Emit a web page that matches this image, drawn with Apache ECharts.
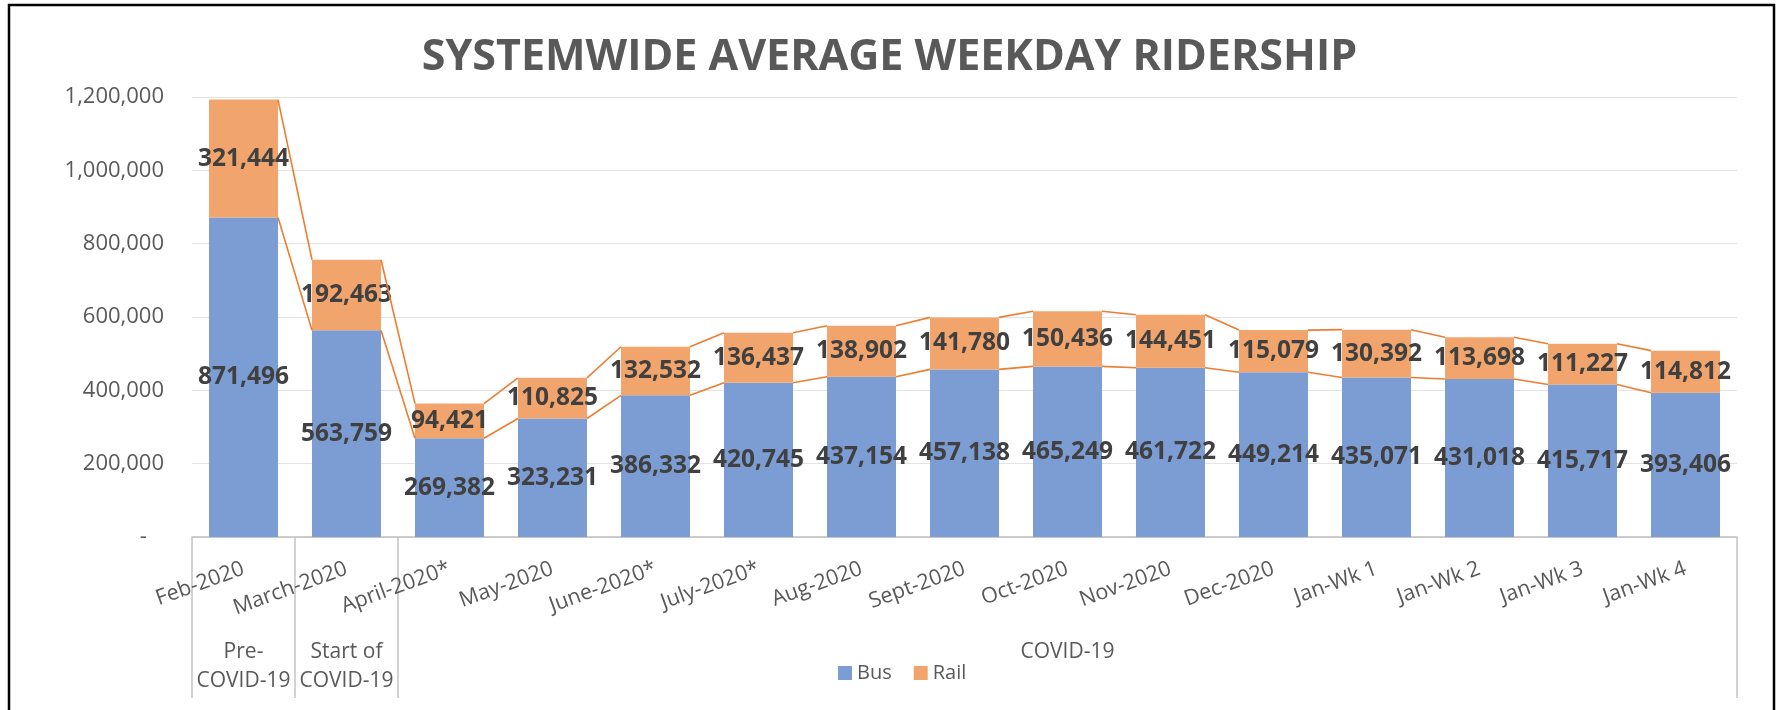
<!DOCTYPE html>
<html>
<head>
<meta charset="utf-8">
<title>Systemwide Average Weekday Ridership</title>
<script src="https://cdn.jsdelivr.net/npm/echarts@6/dist/echarts.min.js"></script>
<style>
  html, body { margin: 0; padding: 0; background: #fff; }
  #chart { width: 1779px; height: 710px; }
</style>
</head>
<body>
<div id="chart"></div>
<script>
// --- data ---
const categories = ['Feb-2020', 'March-2020', 'April-2020*', 'May-2020', 'June-2020*', 'July-2020*',
  'Aug-2020', 'Sept-2020', 'Oct-2020', 'Nov-2020', 'Dec-2020', 'Jan-Wk 1', 'Jan-Wk 2', 'Jan-Wk 3', 'Jan-Wk 4']
const busRiders = [871496, 563759, 269382, 323231, 386332, 420745, 437154, 457138, 465249,
  461722, 449214, 435071, 431018, 415717, 393406]
const railRiders = [321444, 192463, 94421, 110825, 132532, 136437, 138902, 141780, 150436,
  144451, 115079, 130392, 113698, 111227, 114812]
// second level of the category axis (one entry per category, label sits in the middle of its group)
const groupLabels = ['Pre-\nCOVID-19', 'Start of\nCOVID-19', '', '', '', '', '', '', 'COVID-19', '', '', '', '', '', '']
const groupStarts = [0, 1, 2]
const yTicks = { min: 0, max: 1200000, interval: 200000 }

const BAR_GAP = 0.33
const textColor = '#595959'
const fmt = v => v.toLocaleString('en-US')

// series lines join the top edges of neighbouring stacked segments
const seriesLineData = categories.slice(0, -1).map((_, i) => [
  i,
  busRiders[i], busRiders[i + 1],
  busRiders[i] + railRiders[i], busRiders[i + 1] + railRiders[i + 1],
])

const renderSeriesLines = (params, api) => {
  const i = api.value(0)
  const half = api.size([1, 0])[0] * (1 - BAR_GAP) / 2
  const style = { stroke: '#ED7D31', lineWidth: 1.6 }
  const seg = (a, b) => {
    const p1 = api.coord([i, a])
    const p2 = api.coord([i + 1, b])
    return { type: 'line', shape: { x1: p1[0] + half, y1: p1[1], x2: p2[0] - half, y2: p2[1] }, style }
  }
  return { type: 'group', children: [seg(api.value(1), api.value(2)), seg(api.value(3), api.value(4))] }
}

const dataLabel = {
  show: true,
  position: 'inside',
  fontSize: 24.5,
  fontWeight: 'bold',
  color: '#404040',
  formatter: p => fmt(p.value),
}

const chart = echarts.init(document.getElementById('chart'))
chart.setOption({
  backgroundColor: '#fff',
  animation: false,
  textStyle: { fontFamily: 'Open Sans' },
  title: {
    text: 'SYSTEMWIDE AVERAGE WEEKDAY RIDERSHIP',
    left: 'center',
    top: 31,
    textStyle: { fontSize: 43, fontWeight: 'bold', color: textColor, fontFamily: 'Open Sans' },
  },
  legend: {
    data: ['Bus', 'Rail'],
    left: 833,
    top: 658,
    icon: 'rect',
    itemWidth: 14,
    itemHeight: 14,
    itemGap: 22,
    textStyle: { fontSize: 20, color: textColor },
  },
  graphic: [{
    type: 'rect',
    shape: { x: 9, y: 5, width: 1765, height: 740 },
    style: { fill: 'none', stroke: '#000', lineWidth: 2.5 },
    silent: true,
  }],
  grid: { left: 192, right: 42, top: 97, bottom: 173 },
  xAxis: [
    {
      type: 'category',
      data: categories,
      axisLine: { lineStyle: { color: '#bfbfbf', width: 1.5 } },
      axisTick: { show: false },
      axisLabel: { interval: 0, rotate: 20, margin: 31, fontSize: 21.5, color: textColor },
    },
    {
      type: 'category',
      data: groupLabels,
      position: 'bottom',
      axisLine: { show: false },
      axisTick: {
        show: true,
        length: 161,
        interval: i => groupStarts.includes(i),
        lineStyle: { color: '#c4c4c4', width: 1.5 },
      },
      axisLabel: { interval: 0, margin: 101, fontSize: 21, lineHeight: 29, color: textColor },
    },
  ],
  yAxis: {
    type: 'value',
    ...yTicks,
    axisLine: { show: false },
    axisTick: { show: false },
    splitLine: { lineStyle: { color: '#e3e3e3', width: 1.2 } },
    axisLabel: {
      margin: 28,
      fontSize: 22,
      color: textColor,
      formatter: v => (v === 0 ? '-   ' : fmt(v)),
    },
  },
  series: [
    {
      name: 'Bus',
      type: 'bar',
      stack: 'riders',
      barCategoryGap: '33%',
      itemStyle: { color: '#7C9CD4' },
      label: dataLabel,
      data: busRiders,
    },
    {
      name: 'Rail',
      type: 'bar',
      stack: 'riders',
      barCategoryGap: '33%',
      itemStyle: { color: '#F1A56D' },
      label: dataLabel,
      data: railRiders,
    },
    {
      name: 'series lines',
      type: 'custom',
      silent: true,
      z: 3,
      renderItem: renderSeriesLines,
      encode: { x: 0, y: [1, 2, 3, 4] },
      data: seriesLineData,
    },
  ],
})
</script>
</body>
</html>
